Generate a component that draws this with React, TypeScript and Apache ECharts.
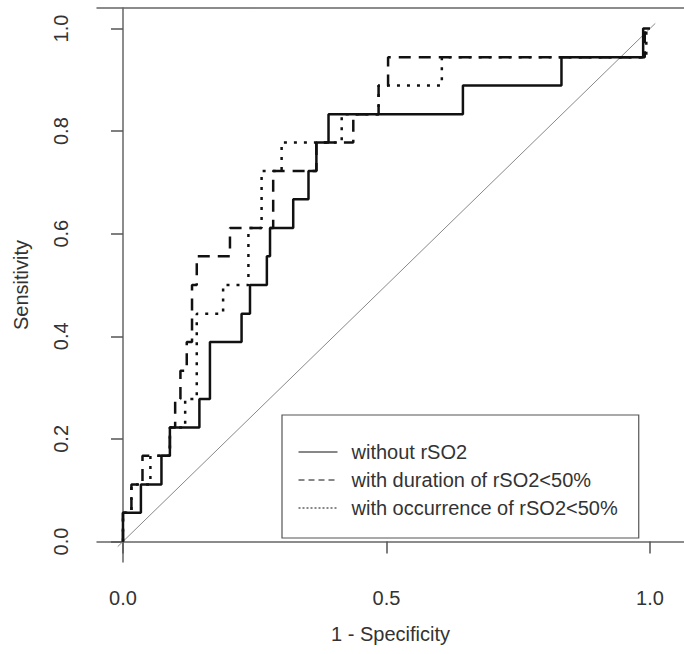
import React, { useEffect, useRef } from "react";
import * as echarts from "echarts";

const seriesNames = [
  "without rSO2",
  "with duration of rSO2<50%",
  "with occurrence of rSO2<50%",
];

// ROC vertices: 1 - specificity (x) and sensitivity (y)
const fprWithout = [0, 0, 0.034, 0.034, 0.073, 0.073, 0.089, 0.089, 0.145, 0.145, 0.165, 0.165, 0.225, 0.225, 0.241, 0.241, 0.273, 0.273, 0.279, 0.279, 0.323, 0.323, 0.352, 0.352, 0.367, 0.367, 0.39, 0.39, 0.645, 0.645, 0.832, 0.832, 0.987, 0.987, 1];
const sensWithout = [0, 0.056, 0.056, 0.111, 0.111, 0.167, 0.167, 0.222, 0.222, 0.278, 0.278, 0.389, 0.389, 0.444, 0.444, 0.5, 0.5, 0.556, 0.556, 0.611, 0.611, 0.667, 0.667, 0.722, 0.722, 0.778, 0.778, 0.833, 0.833, 0.889, 0.889, 0.944, 0.944, 1, 1];

const fprDuration = [0, 0, 0.016, 0.016, 0.037, 0.037, 0.089, 0.089, 0.099, 0.099, 0.109, 0.109, 0.121, 0.121, 0.131, 0.131, 0.14, 0.14, 0.203, 0.203, 0.285, 0.285, 0.367, 0.367, 0.437, 0.437, 0.485, 0.485, 0.503, 0.503, 0.99, 0.99, 1];
const sensDuration = [0, 0.056, 0.056, 0.111, 0.111, 0.167, 0.167, 0.222, 0.222, 0.278, 0.278, 0.333, 0.333, 0.389, 0.389, 0.5, 0.5, 0.556, 0.556, 0.611, 0.611, 0.722, 0.722, 0.778, 0.778, 0.833, 0.833, 0.889, 0.889, 0.944, 0.944, 1, 1];

const fprOccurrence = [0, 0, 0.016, 0.016, 0.052, 0.052, 0.089, 0.089, 0.118, 0.118, 0.14, 0.14, 0.19, 0.19, 0.238, 0.238, 0.263, 0.263, 0.301, 0.301, 0.415, 0.415, 0.485, 0.485, 0.605, 0.605, 0.993, 0.993, 1];
const sensOccurrence = [0, 0.056, 0.056, 0.111, 0.111, 0.167, 0.167, 0.222, 0.222, 0.278, 0.278, 0.444, 0.444, 0.5, 0.5, 0.611, 0.611, 0.722, 0.722, 0.778, 0.778, 0.833, 0.833, 0.889, 0.889, 0.944, 0.944, 1, 1];

const referenceLine = [-0.01, 1.01];

const xTicks = [0, 0.5, 1];
const yTicks = [0, 0.2, 0.4, 0.6, 0.8, 1];

const FONT = "'Liberation Sans', Arial, sans-serif";
const TEXT = "#333";
const X_MIN = -0.0493;
const X_MAX = 1.0645;

function pairs(xs: number[], ys: number[]) {
  return xs.map((x, i) => [x, ys[i]]);
}

export default function App() {
  const ref = useRef<HTMLDivElement>(null);
  useEffect(() => {
    if (!ref.current) return;
    const chart = echarts.init(ref.current, null, { renderer: "svg" });
    const lineColor = "#111";
    const frame = { color: "#666", width: 1.5 };
    chart.setOption({
      animation: false,
      backgroundColor: "#fff",
      grid: {
        left: 97,
        top: 8,
        right: 0,
        bottom: 92,
        show: false,
      },
      legend: {
        orient: "vertical",
        left: 282,
        top: 415,
        padding: [27, 21, 20, 16],
        borderColor: "#555",
        borderWidth: 1.2,
        itemWidth: 39,
        itemHeight: 14,
        itemGap: 8,
        itemStyle: { opacity: 0 },
        lineStyle: { width: 1 },
        textStyle: {
          fontFamily: FONT,
          fontSize: 20,
          color: TEXT,
          lineHeight: 20,
          padding: [0, 0, 0, 9],
        },
        data: [
          { name: seriesNames[0], lineStyle: { width: 1, type: "solid" } },
          { name: seriesNames[1], lineStyle: { width: 1, type: [6, 4] } },
          { name: seriesNames[2], lineStyle: { width: 1, type: [2, 2] } },
        ],
      },
      xAxis: [
        {
          type: "value",
          min: X_MIN,
          max: X_MAX,
          name: "1 - Specificity",
          nameLocation: "middle",
          nameGap: 62,
          nameTextStyle: { fontFamily: FONT, fontSize: 20, color: TEXT },
          axisLine: { show: true, lineStyle: frame },
          axisTick: { show: true, inside: false, length: 12, customValues: xTicks, lineStyle: { color: "#555", width: 1.5 } },
          axisLabel: {
            customValues: xTicks,
            margin: 26,
            fontFamily: FONT,
            fontSize: 20,
            color: TEXT,
            formatter: (v: number) => v.toFixed(1),
          },
          splitLine: { show: false },
        },
        {
          type: "value",
          position: "top",
          min: X_MIN,
          max: X_MAX,
          axisLine: { show: true, lineStyle: frame },
          axisTick: { show: false },
          axisLabel: { show: false },
          splitLine: { show: false },
        },
      ],
      yAxis: {
        type: "value",
        min: -0.04,
        max: 1.04,
        name: "Sensitivity",
        nameLocation: "middle",
        nameRotate: 90,
        nameGap: 66,
        nameTextStyle: { fontFamily: FONT, fontSize: 20, color: TEXT },
        axisLine: { show: true, lineStyle: frame },
        axisTick: { show: true, inside: false, length: 12, customValues: yTicks, lineStyle: { color: "#555", width: 1.5 } },
        axisLabel: {
          customValues: yTicks,
          rotate: 90,
          margin: 26,
          fontFamily: FONT,
          fontSize: 20,
          color: TEXT,
          formatter: (v: number) => v.toFixed(1),
        },
        splitLine: { show: false },
      },
      series: [
        {
          name: "reference",
          type: "line",
          data: pairs(referenceLine, referenceLine),
          symbol: "none",
          lineStyle: { color: "#888", width: 1 },
          silent: true,
          z: 1,
        },
        {
          name: seriesNames[0],
          type: "line",
          data: pairs(fprWithout, sensWithout),
          symbol: "none",
          color: lineColor,
          lineStyle: { color: lineColor, width: 2.5, type: "solid" },
          z: 3,
        },
        {
          name: seriesNames[1],
          type: "line",
          data: pairs(fprDuration, sensDuration),
          symbol: "none",
          color: lineColor,
          lineStyle: { color: lineColor, width: 2.5, type: [12, 8] },
          z: 2,
        },
        {
          name: seriesNames[2],
          type: "line",
          data: pairs(fprOccurrence, sensOccurrence),
          symbol: "none",
          color: lineColor,
          lineStyle: { color: lineColor, width: 2.5, type: [3, 7] },
          z: 2,
        },
      ],
    });
    return () => chart.dispose();
  }, []);
  return (
    <div
      ref={ref}
      style={{ position: "fixed", left: 0, top: 0, width: 684, height: 654 }}
    />
  );
}
